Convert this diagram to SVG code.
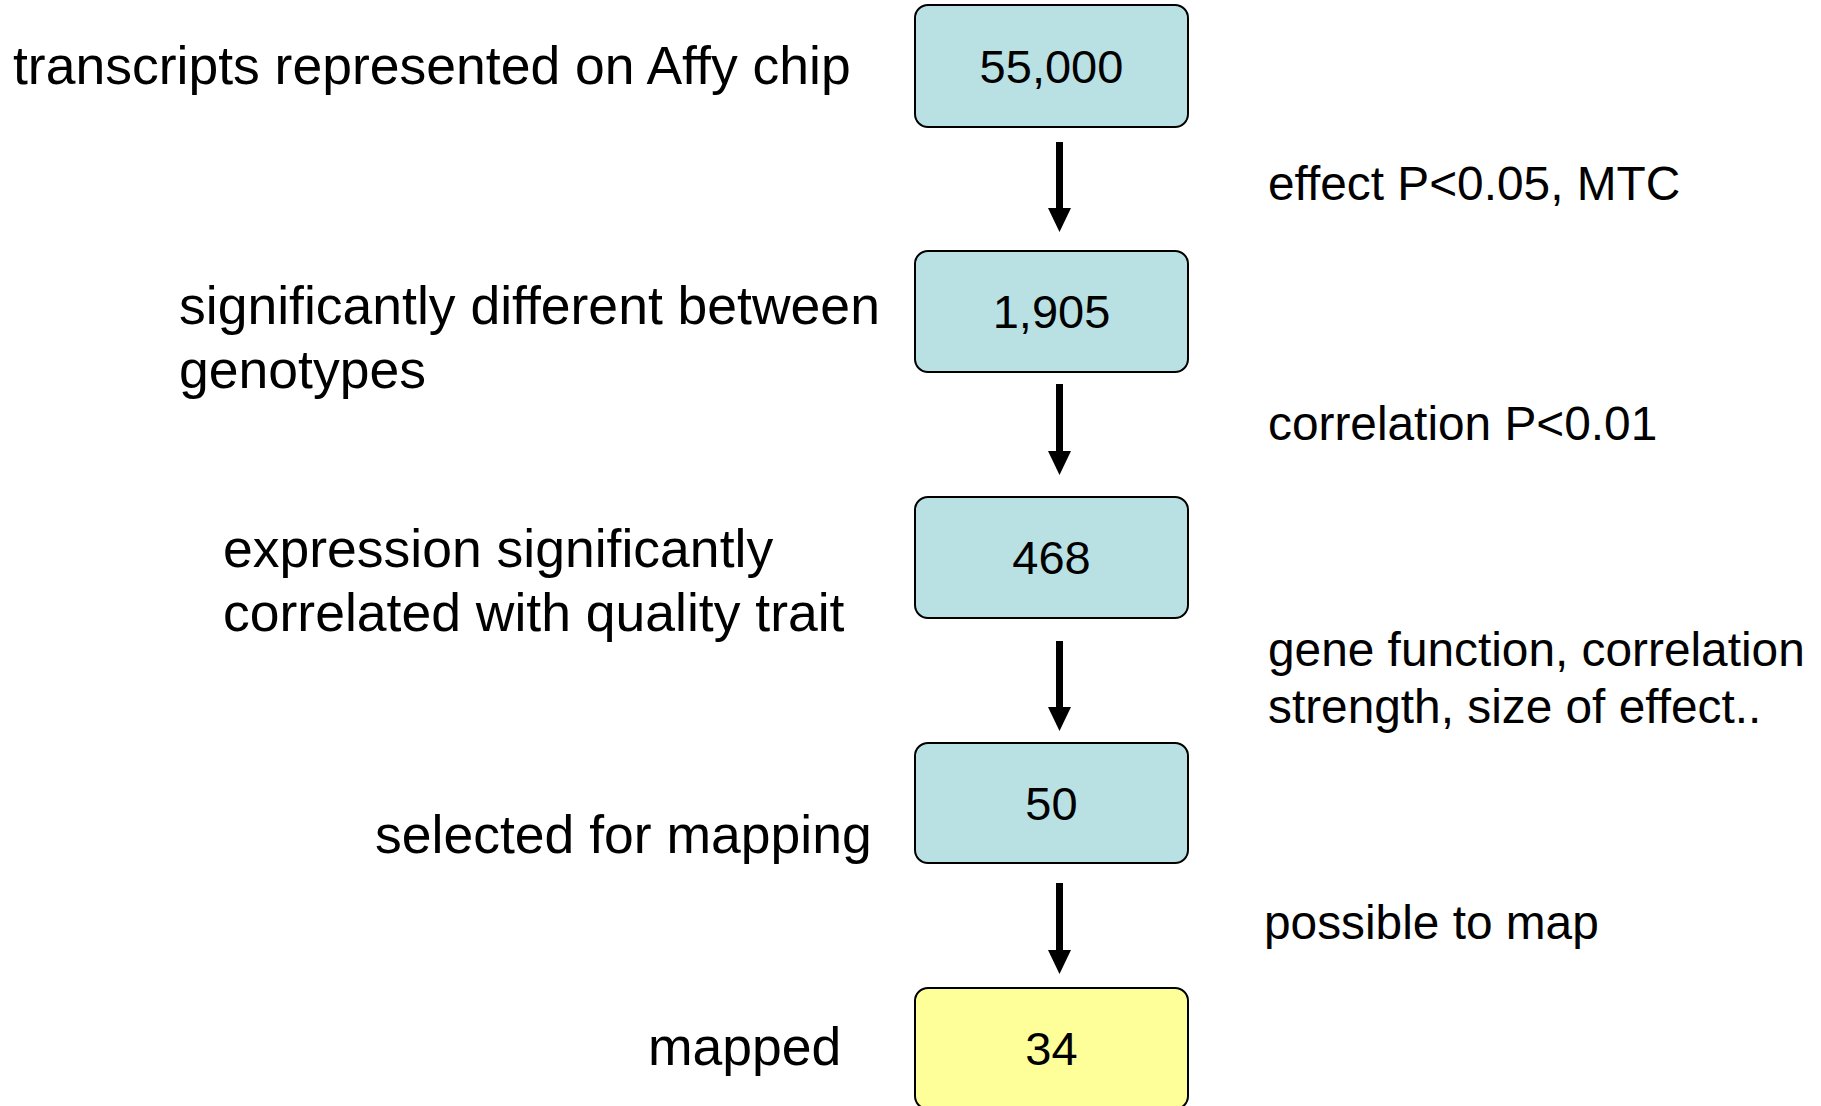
<svg xmlns="http://www.w3.org/2000/svg" width="1821" height="1106" viewBox="0 0 1821 1106">
  <style>
    .box { fill: #B9E0E3; stroke: #000; stroke-width: 2; }
    .box.final { fill: #FFFF99; }
    .num { font-family: "Liberation Sans", Arial, sans-serif; font-size: 47px; fill: #000; text-anchor: middle; }
    .lbl { font-family: "Liberation Sans", Arial, sans-serif; font-size: 53.5px; fill: #000; }
    .note { font-family: "Liberation Sans", Arial, sans-serif; font-size: 47.8px; fill: #000; }
    .flow { stroke: #000; stroke-width: 7; fill: none; marker-end: url(#head); }
  </style>
  <defs>
    <marker id="head" viewBox="0 0 24 23" markerUnits="userSpaceOnUse" markerWidth="24" markerHeight="23" refX="0" refY="11.5" orient="auto">
      <path d="M0,0 L24,11.5 L0,23 z" fill="#000"/>
    </marker>
  </defs>
  <rect width="1821" height="1106" fill="#fff"/>

  <!-- stage boxes -->
  <g id="n55000">
    <rect class="box" x="915" y="5" width="273" height="122" rx="13"/>
    <text class="num" x="1051.5" y="83">55,000</text>
  </g>
  <g id="n1905">
    <rect class="box" x="915" y="251" width="273" height="121" rx="13"/>
    <text class="num" x="1051.5" y="328">1,905</text>
  </g>
  <g id="n468">
    <rect class="box" x="915" y="497" width="273" height="121" rx="13"/>
    <text class="num" x="1051.5" y="574">468</text>
  </g>
  <g id="n50">
    <rect class="box" x="915" y="743" width="273" height="120" rx="13"/>
    <text class="num" x="1051.5" y="820">50</text>
  </g>
  <g id="n34">
    <rect class="box final" x="915" y="988" width="273" height="121" rx="13"/>
    <text class="num" x="1051.5" y="1065">34</text>
  </g>

  <!-- connectors -->
  <g id="connectors">
    <line class="flow" x1="1059.5" y1="142" x2="1059.5" y2="208"/>
    <line class="flow" x1="1059.5" y1="384" x2="1059.5" y2="451"/>
    <line class="flow" x1="1059.5" y1="641" x2="1059.5" y2="707"/>
    <line class="flow" x1="1059.5" y1="883" x2="1059.5" y2="950"/>
  </g>

  <!-- stage descriptions -->
  <g id="labels">
    <text class="lbl" x="13" y="84">transcripts represented on Affy chip</text>
    <text class="lbl" x="179" y="324">significantly different between</text>
    <text class="lbl" x="179" y="388">genotypes</text>
    <text class="lbl" x="223" y="567">expression significantly</text>
    <text class="lbl" x="223" y="631">correlated with quality trait</text>
    <text class="lbl" x="375" y="853">selected for mapping</text>
    <text class="lbl" x="648" y="1065">mapped</text>
  </g>

  <!-- filter criteria -->
  <g id="criteria">
    <text class="note" x="1268" y="200">effect P&lt;0.05, MTC</text>
    <text class="note" x="1268" y="440">correlation P&lt;0.01</text>
    <text class="note" x="1268" y="666">gene function, correlation</text>
    <text class="note" x="1268" y="723">strength, size of effect..</text>
    <text class="note" x="1264" y="939">possible to map</text>
  </g>
</svg>
